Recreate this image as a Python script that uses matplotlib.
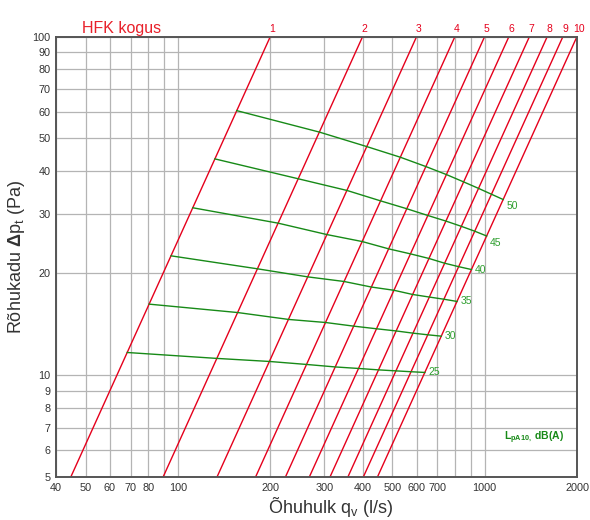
import matplotlib
matplotlib.use("Agg")
import matplotlib.pyplot as plt
from matplotlib.ticker import FixedLocator, NullFormatter, FixedFormatter

plt.rcParams['font.family'] = ['Liberation Sans', 'DejaVu Sans']
plt.rcParams['mathtext.fontset'] = 'custom'
plt.rcParams['mathtext.rm'] = 'Liberation Sans'
plt.rcParams['mathtext.it'] = 'Liberation Sans:italic'
plt.rcParams['mathtext.bf'] = 'Liberation Sans:bold'

# ---- data ----
# red system lines: airflow (l/s) at 5 Pa and at 100 Pa
line_labels = ["1", "2", "3", "4", "5", "6", "7", "8", "9", "10"]
line_q_bottom = [44.7, 89.4, 134, 179, 224, 268, 313, 358, 402, 447]
line_q_top = [200, 400, 600, 800, 1000, 1200, 1400, 1600, 1800, 2000]
line_dp_ends = [5, 100]

# green sound-level curves LpA10 dB(A): (q, dp) at crossings with lines 1..10
curve_levels = [50, 45, 40, 35, 30, 25]
q_50 = [155.4, 289.0, 412.6, 530.7, 642.7, 750.4, 853.9, 954.6, 1052.7, 1148.9]
dp_50 = [60.4, 52.2, 47.3, 44.0, 41.3, 39.1, 37.2, 35.6, 34.2, 33.0]
q_45 = [131.9, 246.6, 355.5, 457.5, 556.8, 652.9, 747.4, 839.1, 928.4, 1014.9]
dp_45 = [43.5, 38.0, 35.1, 32.7, 31.0, 29.6, 28.5, 27.5, 26.6, 25.75]
q_40 = [111.7, 212.0, 305.9, 398.4, 485.8, 573.0, 658.2, 740.2, 822.9, 905.5]
dp_40 = [31.2, 28.1, 26.0, 24.8, 23.6, 22.8, 22.1, 21.4, 20.9, 20.5]
q_35 = [94.9, 181.6, 265.0, 347.8, 426.6, 506.3, 582.3, 659.7, 736.7, 812.4]
dp_35 = [22.5, 20.6, 19.5, 18.9, 18.2, 17.8, 17.3, 17.0, 16.75, 16.5]
q_30 = [80.5, 156.5, 229.3, 302.5, 373.5, 444.2, 514.4, 583.5, 652.7, 722.0]
dp_30 = [16.2, 15.3, 14.6, 14.3, 13.95, 13.7, 13.5, 13.3, 13.15, 13.03]
q_25 = [68.3, 133.9, 198.7, 262.3, 325.1, 388.1, 450.6, 513.3, 575.7, 638.2]
dp_25 = [11.66, 11.2, 10.97, 10.75, 10.57, 10.46, 10.36, 10.29, 10.23, 10.18]
curves_q = [q_50, q_45, q_40, q_35, q_30, q_25]
curves_dp = [dp_50, dp_45, dp_40, dp_35, dp_30, dp_25]

x_ticks = [40, 50, 60, 70, 80, 100, 200, 300, 400, 500, 600, 700, 1000, 2000]
x_grid_only = [90, 800, 900]
y_ticks = [5, 6, 7, 8, 9, 10, 20, 30, 40, 50, 60, 70, 80, 90, 100]

# ---- figure ----
RED = '#e5001c'
GREEN = '#178a17'
GREEN_TXT = '#2e9e2e'
GRID = '#b4b4b4'

fig = plt.figure(figsize=(5.9, 5.2), dpi=100)
ax = fig.add_axes([56 / 590, 1 - 477 / 520, 521 / 590, (477 - 36.5) / 520])
ax.set_xscale('log')
ax.set_yscale('log')
ax.set_xlim(40, 2000)
ax.set_ylim(5, 100)

ax.xaxis.set_major_locator(FixedLocator(x_ticks))
ax.xaxis.set_major_formatter(FixedFormatter([str(v) for v in x_ticks]))
ax.xaxis.set_minor_locator(FixedLocator(x_grid_only))
ax.xaxis.set_minor_formatter(NullFormatter())
ax.yaxis.set_major_locator(FixedLocator(y_ticks))
ax.yaxis.set_major_formatter(FixedFormatter([str(v) for v in y_ticks]))
ax.yaxis.set_minor_locator(FixedLocator([]))
ax.yaxis.set_minor_formatter(NullFormatter())

ax.grid(True, which='both', color=GRID, linewidth=0.9)
ax.set_axisbelow(True)
ax.tick_params(which='both', length=0, labelsize=7.8, colors='#333333', pad=4)
for s in ax.spines.values():
    s.set_color('#555555')
    s.set_linewidth(1.4)

for lab, qb, qt in zip(line_labels, line_q_bottom, line_q_top):
    ax.plot([qb, qt], line_dp_ends, color=RED, linewidth=1.0, clip_on=True)
    ax.annotate(lab, xy=(qt, 100), xytext=(1.5, 2), textcoords='offset points',
                ha='center', va='bottom', color=RED, fontsize=7.5, annotation_clip=False)

for lvl, qs, dps in zip(curve_levels, curves_q, curves_dp):
    ax.plot(qs, dps, color=GREEN, linewidth=1.0)
    dy = -5 if lvl >= 45 else 0
    ax.annotate(str(lvl), xy=(qs[-1], dps[-1]), xytext=(2.5, dy), textcoords='offset points',
                ha='left', va='center', color=GREEN_TXT, fontsize=7.5)

ax.text(0.975, 0.09, r"$\mathbf{L}_{\mathbf{pA10,}}\ \mathbf{dB(A)}$", transform=ax.transAxes,
        ha='right', va='center', color=GREEN, fontsize=7.5)

fig.text(82.5 / 590, 1 - 33.5 / 520, "HFK kogus", color='#e8202a', fontsize=11.5, ha='left', va='baseline')

ax.set_xlabel(r"Õhuhulk q$_\mathrm{v}$ (l/s)", fontsize=13, color='#333333')
ax.xaxis.set_label_coords(0.526, -0.082)
ax.xaxis.label.set_va('baseline')
ax.set_ylabel(r"Rõhukadu $\mathbf{\Delta}$p$_\mathrm{t}$ (Pa)", fontsize=13, color='#333333', labelpad=4)

fig.savefig("out.png", dpi=100)
